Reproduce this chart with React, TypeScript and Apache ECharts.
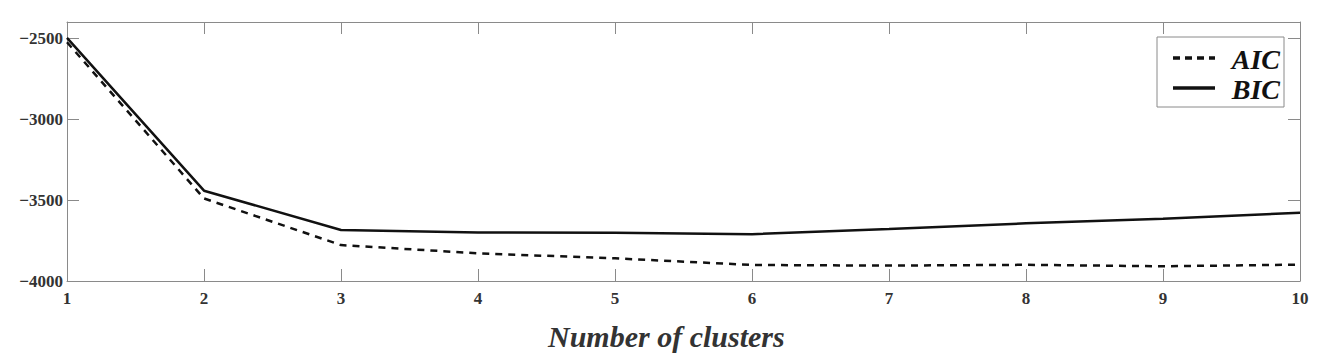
import React, { useEffect, useRef } from "react";
import * as echarts from "echarts";

const clusters = [1, 2, 3, 4, 5, 6, 7, 8, 9, 10];
const aicValues = [-2525, -3490, -3778, -3829, -3860, -3901, -3905, -3900, -3909, -3899];
const bicValues = [-2498, -3442, -3685, -3700, -3702, -3711, -3679, -3644, -3615, -3578];
const legendNames = ["AIC", "BIC"];
const xAxisTitle = "Number of clusters";

const FONT = "Times New Roman, Liberation Serif, Tinos, DejaVu Serif, serif";
const AXIS_COLOR = "#8a8a8a";
const LABEL_COLOR = "#333333";

export default function App() {
  const ref = useRef<HTMLDivElement>(null);
  useEffect(() => {
    if (!ref.current) return;
    const chart = echarts.init(ref.current, null, { renderer: "svg" });
    const toPairs = (vals: number[]) => clusters.map((c, i) => [c, vals[i]]);
    const fmt = (v: number) => String(v).replace("-", "\u2212");
    const boxAxisLine = { show: true, lineStyle: { color: AXIS_COLOR, width: 1 } };
    const inTick = { show: true, inside: true, length: 12, lineStyle: { color: AXIS_COLOR, width: 1 } };
    const tickFont = {
      color: LABEL_COLOR,
      fontFamily: FONT,
      fontWeight: "bold",
      fontSize: 17,
    };
    chart.setOption({
      animation: false,
      backgroundColor: "#ffffff",
      grid: { left: 67, right: 18, top: 22, bottom: 83, containLabel: false },
      xAxis: [
        {
          type: "value",
          min: 1,
          max: 10,
          interval: 1,
          position: "bottom",
          axisLine: boxAxisLine,
          axisTick: inTick,
          splitLine: { show: false },
          axisLabel: { show: true, margin: 9, ...tickFont },
        },
        {
          type: "value",
          min: 1,
          max: 10,
          interval: 1,
          position: "top",
          axisLine: boxAxisLine,
          axisTick: inTick,
          splitLine: { show: false },
          axisLabel: { show: false },
        },
      ],
      yAxis: [
        {
          type: "value",
          min: -4000,
          max: -2400,
          interval: 500,
          position: "left",
          axisLine: boxAxisLine,
          axisTick: inTick,
          splitLine: { show: false },
          axisLabel: {
            show: true,
            showMaxLabel: false,
            margin: 4,
            ...tickFont,
            formatter: fmt,
          },
        },
        {
          type: "value",
          min: -4000,
          max: -2400,
          interval: 500,
          position: "right",
          axisLine: boxAxisLine,
          axisTick: inTick,
          splitLine: { show: false },
          axisLabel: { show: false },
        },
      ],
      series: [
        {
          name: legendNames[0],
          type: "line",
          data: toPairs(aicValues),
          symbol: "none",
          lineStyle: { color: "#111111", width: 2.5, type: [7, 6] },
        },
        {
          name: legendNames[1],
          type: "line",
          data: toPairs(bicValues),
          symbol: "none",
          lineStyle: { color: "#111111", width: 2.5 },
        },
      ],
      graphic: [
        {
          type: "rect",
          shape: { x: 1157, y: 37, width: 127, height: 70 },
          style: { fill: "#ffffff", stroke: AXIS_COLOR, lineWidth: 1 },
          z: 10,
        },
        {
          type: "line",
          shape: { x1: 1173, y1: 58, x2: 1215, y2: 58 },
          style: { stroke: "#111111", lineWidth: 3.5, lineDash: [7, 5] },
          z: 11,
        },
        {
          type: "line",
          shape: { x1: 1173, y1: 88, x2: 1215, y2: 88 },
          style: { stroke: "#111111", lineWidth: 3.5 },
          z: 11,
        },
        {
          type: "text",
          x: 1280,
          y: 59,
          style: {
            text: legendNames[0],
            fill: "#111111",
            fontFamily: FONT,
            fontStyle: "italic",
            fontWeight: "bold",
            fontSize: 28,
            textAlign: "right",
            textVerticalAlign: "middle",
          },
          z: 11,
        },
        {
          type: "text",
          x: 1280,
          y: 89,
          style: {
            text: legendNames[1],
            fill: "#111111",
            fontFamily: FONT,
            fontStyle: "italic",
            fontWeight: "bold",
            fontSize: 28,
            textAlign: "right",
            textVerticalAlign: "middle",
          },
          z: 11,
        },
        {
          type: "text",
          x: 548,
          y: 336,
          style: {
            text: xAxisTitle,
            fill: LABEL_COLOR,
            fontFamily: FONT,
            fontStyle: "italic",
            fontWeight: "bold",
            fontSize: 30,
            textAlign: "left",
            textVerticalAlign: "middle",
          },
        },
      ],
    });
    return () => chart.dispose();
  }, []);
  return (
    <div
      ref={ref}
      style={{ position: "fixed", left: 0, top: 0, width: 1318, height: 364 }}
    />
  );
}
